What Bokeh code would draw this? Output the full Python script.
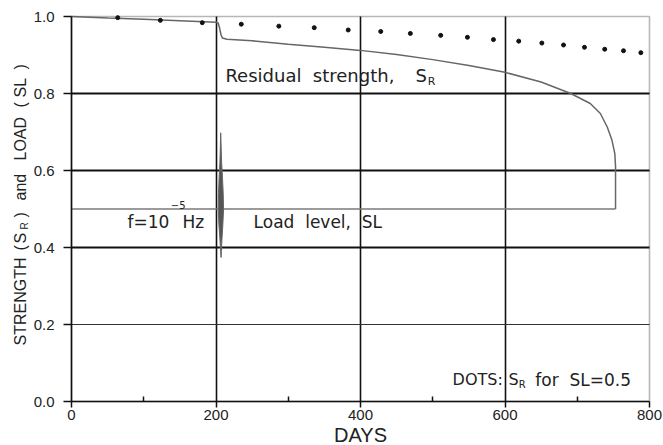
from bokeh.plotting import figure
from bokeh.models import Range1d, FixedTicker, Label, Grid, PrintfTickFormatter, BoxAnnotation
from bokeh.embed import file_html
from bokeh.resources import INLINE
import math

# ---------------- data ----------------
x_ticks = [0, 200, 400, 600, 800]
x_minor_ticks = [100, 300, 500, 700]
y_ticks = [0.0, 0.2, 0.4, 0.6, 0.8, 1.0]

# residual strength S_R (days, value)
sr_days = [0, 50, 100, 150, 200, 203, 205, 207, 209, 215, 250, 300, 350, 400, 450,
           500, 550, 600, 650, 691, 718, 732, 741.5, 748, 752, 753, 753]
sr_vals = [1.0, 0.996, 0.993, 0.989, 0.985, 0.983, 0.970, 0.952, 0.944, 0.941, 0.937,
           0.928, 0.920, 0.912, 0.901, 0.888, 0.873, 0.855, 0.830, 0.800, 0.774, 0.748,
           0.713, 0.679, 0.644, 0.610, 0.500]

# load level SL
load_days = [0, 753]
load_vals = [0.5, 0.5]

# dots: S_R for SL = 0.5
dot_days = [64, 123, 181, 235, 287, 336, 383, 428, 469, 511, 548, 584, 619, 651, 681,
            710, 738, 764, 788]
dot_vals = [0.997, 0.990, 0.984, 0.980, 0.975, 0.971, 0.965, 0.961, 0.956, 0.951, 0.946,
            0.940, 0.936, 0.931, 0.926, 0.920, 0.915, 0.911, 0.906]

# envelope of the load oscillation burst (f = 1e-5 Hz)
osc_days = [206.5, 207.2, 207.8, 209, 210, 210.5, 209.5, 208.2, 207.4, 207,
            206.4, 205.5, 204, 203.2, 203.5, 204.3, 205.4, 206]
osc_vals = [0.698, 0.66, 0.62, 0.58, 0.54, 0.50, 0.46, 0.42, 0.39, 0.374,
            0.39, 0.42, 0.46, 0.50, 0.54, 0.58, 0.62, 0.66]

# ---------------- figure ----------------
W, H = 663, 445
FL, FR, FT, FB = 71, 649, 16, 401          # pixel box of the 0..800 x 0..1 plot area
kx = (FR - FL) / 800.0
ky = (FB - FT) / 1.0
x_range = Range1d(-FL / kx, 800 + (W - FR) / kx)
y_range = Range1d(-(H - FB) / ky, 1.0 + FT / ky)

p = figure(width=W, height=H, output_backend="svg", toolbar_location=None,
           x_range=x_range, y_range=y_range,
           min_border_left=0, min_border_right=0, min_border_top=0, min_border_bottom=0)
p.background_fill_color = "white"
p.border_fill_color = "white"
p.outline_line_color = None

# axes, drawn at the data origin
for ax in (p.xaxis, p.yaxis):
    ax.fixed_location = 0
    ax.axis_line_color = "#111111"
    ax.axis_line_width = 1.6
    ax.major_tick_line_color = "#111111"
    ax.major_tick_line_width = 1.5
    ax.minor_tick_line_color = "#111111"
    ax.minor_tick_line_width = 1.5
    ax.major_label_text_font = "Liberation Sans"
    ax.major_label_text_font_size = "15px"
    ax.major_label_text_color = "#222222"

p.xaxis.bounds = (0, 800)
p.xaxis.ticker = FixedTicker(ticks=x_ticks, minor_ticks=x_minor_ticks)
p.xaxis.major_tick_out = 6
p.xaxis.major_tick_in = 0
p.xaxis.minor_tick_in = 5
p.xaxis.minor_tick_out = 0
p.xaxis.major_label_standoff = 2

p.yaxis.bounds = (0, 1)
p.yaxis.ticker = FixedTicker(ticks=y_ticks, minor_ticks=[])
p.yaxis.formatter = PrintfTickFormatter(format="%.1f")
p.yaxis.major_tick_out = 8
p.yaxis.major_tick_in = 0
p.yaxis.minor_tick_out = 0
p.yaxis.minor_tick_in = 0
p.yaxis.major_label_standoff = 9

# grids
p.xgrid.ticker = FixedTicker(ticks=[200, 400, 600])
p.xgrid.bounds = (0, 800)
p.xgrid.cross_bounds = (0, 1)
p.xgrid.grid_line_color = "#111111"
p.xgrid.grid_line_width = 1.6
p.ygrid.ticker = FixedTicker(ticks=[0.4, 0.6, 0.8])
p.ygrid.bounds = (0, 1)
p.ygrid.cross_bounds = (0, 800)
p.ygrid.grid_line_color = "#111111"
p.ygrid.grid_line_width = 1.8
g2 = Grid(dimension=1, ticker=FixedTicker(ticks=[0.2]), grid_line_color="#333333",
          grid_line_width=1.0, bounds=(0, 1), cross_bounds=(0, 800))
p.add_layout(g2)

# plot box (top and right edges)
p.add_layout(BoxAnnotation(left=0, right=800, bottom=0, top=1, fill_alpha=0,
                           line_color="#111111", line_width=1.6, level="underlay"))

# glyphs
p.line(sr_days, sr_vals, line_color="#666666", line_width=1.5)
p.line(load_days, load_vals, line_color="#7a7a7a", line_width=1.3)
p.patch(osc_days, osc_vals, fill_color="#555555", line_color="#666666", line_width=1)
p.scatter(dot_days, dot_vals, size=4, color="#111111")

FONT = "DejaVu Sans"
TC = "#222222"
NB = "\u00a0"

def lab(x, y, text, size, font=FONT, align="left", angle=0.0, baseline="alphabetic"):
    p.add_layout(Label(x=x, y=y, text=text, text_font=font, text_font_size=size,
                       text_color=TC, text_align=align, text_baseline=baseline,
                       angle=angle))

# annotations in data units
lab(213, 0.8455, "Residual" + NB + NB + "strength,", "18px")
lab(476, 0.8455, "S", "18px")
lab(493, 0.8312, "R", "11px")
lab(77.5, 0.4675, "f=10", "17px")
lab(137.5, 0.5106, "\u22125", "10px")
lab(153.6, 0.4675, "Hz", "17px")
lab(252, 0.4675, "Load" + NB + NB + "level," + NB + NB + "SL", "17px")
lab(597, 0.0571, "DOTS:", "16px", align="right")
lab(605, 0.0571, "S", "16px")
lab(619, 0.0431, "R", "10px")
lab(642, 0.0571, "for" + NB + NB + "SL=0.5", "17px")

# x-axis title
lab(400, -0.0883, "DAYS", "20px", font="Liberation Sans", align="center")

# y-axis title, rotated, composed of pieces
YF = "Liberation Sans"
A = math.pi / 2
YX = -70.6
def ylab(y, text, size="16px", x=YX):
    lab(x, y, text, size, font=YF, angle=A, baseline="middle")

ylab(0.1455, "STRENGTH")
ylab(0.3922, "(")
ylab(0.4104, "S")
ylab(0.4468, "R", size="10px", x=YX + 6.0)
ylab(0.4779, ")")
ylab(0.5221, "and")
ylab(0.6260, "LOAD")
ylab(0.7636, "(")
ylab(0.7896, "SL")
ylab(0.8623, ")")

open("out.html", "w").write(file_html(p, INLINE))
